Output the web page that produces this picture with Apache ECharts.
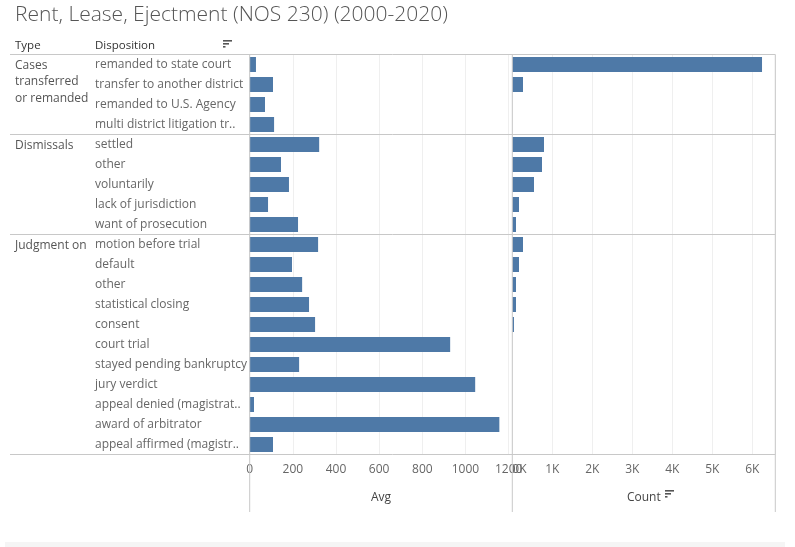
<!DOCTYPE html>
<html>
<head>
<meta charset="utf-8">
<script src="https://cdn.jsdelivr.net/npm/echarts@6/dist/echarts.min.js"></script>
<style>
html,body{margin:0;padding:0;background:#fff;}
#c{width:795px;height:547px;}
</style>
</head>
<body>
<div id="c"></div>
<script>
const titleText = 'Rent, Lease, Ejectment (NOS 230) (2000-2020)';
const typeGroups = ['Cases\ntransferred\nor remanded', 'Dismissals', 'Judgment on'];
const groupSizes = [4, 5, 11];
const dispositions = [
  'remanded to state court', 'transfer to another district', 'remanded to U.S. Agency', 'multi district litigation tr..',
  'settled', 'other', 'voluntarily', 'lack of jurisdiction', 'want of prosecution',
  'motion before trial', 'default', 'other ', 'statistical closing', 'consent', 'court trial',
  'stayed pending bankruptcy', 'jury verdict', 'appeal denied (magistrat..', 'award of arbitrator', 'appeal affirmed (magistr..'
];
const avgValues = [29, 108, 71, 113, 322, 145, 182, 85, 224, 317, 196, 243, 275, 303, 929, 229, 1045, 20, 1157, 108];
const countValues = [6243, 268, 0, 0, 792, 742, 542, 167, 92, 268, 167, 92, 92, 42, 0, 0, 0, 0, 0, 0];
const avgTicks = {min: 0, max: 1217, interval: 200};
const countTicks = {min: 0, max: 6575, interval: 1000};

const FONT = 'Open Sans';
const BLUE = '#4e79a7';
const DIV = '#c8c8c8';
const GRID = '#efefef';

const chart = echarts.init(document.getElementById('c'));
const G0 = {left: 249.7, top: 54.5, width: 262.6, height: 400};
const G1 = {left: 512.3, top: 54.5, width: 263, height: 400};

function sortIcon(x, y) {
  return [
    {type: 'rect', shape: {x: x, y: y, width: 9, height: 1.6}, style: {fill: '#555'}},
    {type: 'rect', shape: {x: x, y: y + 3, width: 6, height: 1.6}, style: {fill: '#555'}},
    {type: 'rect', shape: {x: x, y: y + 6, width: 2.5, height: 1.6}, style: {fill: '#555'}}
  ];
}

chart.setOption({
  animation: false,
  textStyle: {fontFamily: FONT},
  title: {
    text: titleText, left: 10, top: 0,
    textStyle: {fontFamily: FONT, fontSize: 21, fontWeight: 300, color: '#555'}
  },
  grid: [
    Object.assign({containLabel: false}, G0),
    Object.assign({containLabel: false}, G1)
  ],
  xAxis: [
    {
      gridIndex: 0, type: 'value', min: avgTicks.min, max: avgTicks.max, interval: avgTicks.interval,
      axisLine: {show: false}, axisTick: {show: false},
      splitLine: {show: true, lineStyle: {color: GRID, width: 1}},
      axisLabel: {color: '#666', fontSize: 12, fontFamily: FONT, margin: 9, showMaxLabel: false,
        hideOverlap: false, formatter: v => String(v)},
      name: 'Avg', nameLocation: 'middle', nameGap: 37,
      nameTextStyle: {color: '#444', fontSize: 12, fontFamily: FONT}
    },
    {
      gridIndex: 1, type: 'value', min: countTicks.min, max: countTicks.max, interval: countTicks.interval,
      axisLine: {show: false}, axisTick: {show: false},
      splitLine: {show: true, lineStyle: {color: GRID, width: 1}},
      axisLabel: {color: '#666', fontSize: 12, fontFamily: FONT, margin: 9, showMaxLabel: false,
        hideOverlap: false, alignMinLabel: 'left', formatter: v => (v / 1000) + 'K'},
      name: 'Count', nameLocation: 'middle', nameGap: 37,
      nameTextStyle: {color: '#444', fontSize: 12, fontFamily: FONT}
    }
  ],
  yAxis: [
    {
      gridIndex: 0, type: 'category', data: dispositions, inverse: true,
      axisLine: {show: false}, axisTick: {show: false}, splitLine: {show: false},
      axisLabel: {align: 'left', margin: 154.7, color: '#666', fontSize: 12, fontFamily: FONT,
        formatter: v => v.trim()}
    },
    {
      gridIndex: 1, type: 'category', data: dispositions, inverse: true,
      axisLine: {show: false}, axisTick: {show: false}, splitLine: {show: false},
      axisLabel: {show: false}
    }
  ],
  series: [
    {type: 'bar', xAxisIndex: 0, yAxisIndex: 0, data: avgValues, barWidth: 15,
      itemStyle: {color: BLUE}, silent: true},
    {type: 'bar', xAxisIndex: 1, yAxisIndex: 1, data: countValues, barWidth: 15,
      itemStyle: {color: BLUE}, silent: true}
  ]
});

// structural decorations computed from the axes
const rowY = i => chart.convertToPixel({yAxisIndex: 0}, i);
const rowH = rowY(1) - rowY(0);
const topY = rowY(0) - rowH / 2;
const botY = rowY(dispositions.length - 1) + rowH / 2;
const x0 = chart.convertToPixel({xAxisIndex: 0}, 0);
const x1 = chart.convertToPixel({xAxisIndex: 1}, 0);
const x2 = chart.convertToPixel({xAxisIndex: 1}, countTicks.max);
const lineEnd = 512;
const gfx = [];
function hline(y) {
  gfx.push({type: 'line', shape: {x1: 10, y1: y, x2: x2, y2: y}, style: {stroke: DIV, lineWidth: 1}, z: 10});
}
function vline(x) {
  gfx.push({type: 'line', shape: {x1: x, y1: topY, x2: x, y2: lineEnd}, style: {stroke: DIV, lineWidth: 1}, z: 10});
}
hline(topY);
let start = 0;
groupSizes.forEach((n, gi) => {
  const yTop = rowY(start) - rowH / 2;
  if (gi > 0) hline(yTop);
  gfx.push({type: 'text', x: 15, y: yTop + 2.5,
    style: {text: typeGroups[gi], fill: '#555', fontSize: 12, fontFamily: FONT, lineHeight: 16.5,
      textVerticalAlign: 'top'}, z: 10});
  start += n;
});
hline(botY);
vline(x0); vline(x1); vline(x2);
// headers
gfx.push({type: 'text', x: 15, y: 46, style: {text: 'Type', fill: '#333', fontSize: 11.5, fontFamily: FONT, textVerticalAlign: 'middle'}});
gfx.push({type: 'text', x: 95, y: 46, style: {text: 'Disposition', fill: '#333', fontSize: 11.5, fontFamily: FONT, textVerticalAlign: 'middle'}});
sortIcon(223, 40).forEach(e => gfx.push(e));
sortIcon(665, 490).forEach(e => gfx.push(e));
// bottom strip
gfx.push({type: 'rect', shape: {x: 5, y: 542, width: 780, height: 6}, style: {fill: '#f5f5f5'}});
chart.setOption({graphic: gfx});
</script>
</body>
</html>
